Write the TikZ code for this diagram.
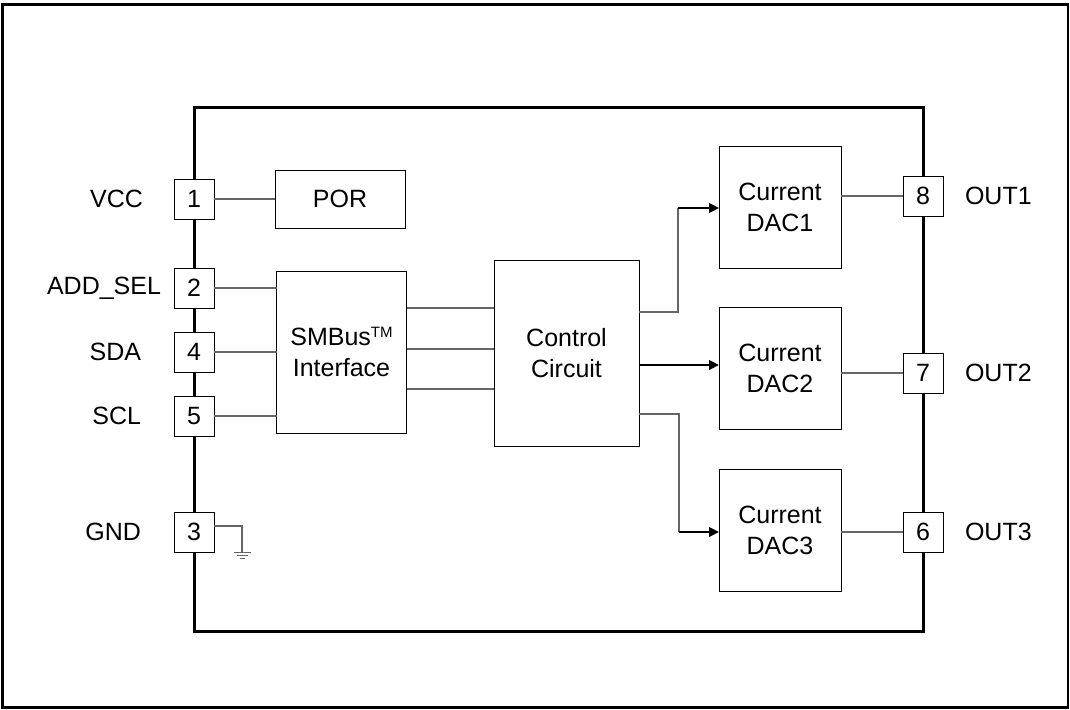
\documentclass[tikz,border=0pt]{standalone}
\usepackage{fontspec}
\setmainfont{Liberation Sans}
\usetikzlibrary{arrows.meta}
\begin{document}
\begin{tikzpicture}[x=1pt,y=-1pt,
  txt/.style={font=\fontsize{25}{31}\selectfont, align=center, inner sep=0pt, outer sep=0pt},
  blockbox/.style={draw=black, line width=1pt, fill=white, txt},
  pinbox/.style={draw=black, line width=1pt, fill=white, minimum width=40pt, minimum height=40pt, txt},
  lbl/.style={txt},
  wire/.style={draw=black!60, line width=1.2pt},
  arr/.style={draw=black, line width=2.6pt, -{Triangle[length=10pt,width=9.5pt]}},
  chip/.style={draw=black, line width=3pt},
  frame/.style={draw=black, line width=2.6pt}
]
\useasboundingbox (0,0) rectangle (1070,709);
\draw[frame] (2.5,4.5) rectangle (1068,707.5);
\draw[chip] (194,107) rectangle (923,631);

% blocks
\node[blockbox, minimum width=130pt, minimum height=58pt] (por) at (340,199) {POR};
\node[blockbox, minimum width=130pt, minimum height=162pt] (smb) at (341.5,352) {SMBus\raisebox{8pt}{\fontsize{15}{15}\selectfont TM}\\Interface};
\node[blockbox, minimum width=145pt, minimum height=186pt] (ctl) at (566.5,353) {Control\\Circuit};
\node[blockbox, minimum width=122pt, minimum height=122pt] (dac1) at (780,207) {Current\\DAC1};
\node[blockbox, minimum width=122pt, minimum height=122pt] (dac2) at (780,368) {Current\\DAC2};
\node[blockbox, minimum width=122pt, minimum height=122pt] (dac3) at (780,530) {Current\\DAC3};

% pins
\node[pinbox] (p1) at (194,199) {1};
\node[pinbox] (p2) at (194,288) {2};
\node[pinbox] (p4) at (194,352) {4};
\node[pinbox] (p5) at (194,416) {5};
\node[pinbox] (p3) at (194,532) {3};
\node[pinbox] (p8) at (923,196) {8};
\node[pinbox] (p7) at (923,373) {7};
\node[pinbox] (p6) at (923,532) {6};

% pin labels
\node[lbl, anchor=east] (lvcc) at (143,199) {VCC};
\node[lbl, anchor=east] (ladd) at (161,288) {ADD\_SEL};
\node[lbl, anchor=east] (lsda) at (141,352) {SDA};
\node[lbl, anchor=east] (lscl) at (141,416) {SCL};
\node[lbl, anchor=east] (lgnd) at (141,532) {GND};
\node[lbl, anchor=west] (lo1) at (965,196) {OUT1};
\node[lbl, anchor=west] (lo2) at (965,373) {OUT2};
\node[lbl, anchor=west] (lo3) at (965,532) {OUT3};

% wires
\draw[wire] (p1.east) -- (por.west |- p1.east);
\draw[wire] (p2.east) -- (smb.west |- p2.east);
\draw[wire] (p4.east) -- (smb.west |- p4.east);
\draw[wire] (p5.east) -- (smb.west |- p5.east);
\draw[wire] (smb.east |- 0,308) -- (ctl.west |- 0,308);
\draw[wire] (smb.east |- 0,349) -- (ctl.west |- 0,349);
\draw[wire] (smb.east |- 0,389) -- (ctl.west |- 0,389);
\draw[wire] (dac1.east |- p8.west) -- (p8.west);
\draw[wire] (dac2.east |- p7.west) -- (p7.west);
\draw[wire] (dac3.east |- p6.west) -- (p6.west);

% control to DACs
\coordinate (k1) at (678,312);
\coordinate (k1b) at (678,208);
\draw[wire] (ctl.east |- k1) -- (k1) -- (k1b);
\draw[arr] (k1b) -- (dac1.west |- k1b);
\draw[arr] (ctl.east |- 0,365) -- (dac2.west |- 0,365);
\coordinate (k3) at (679,414);
\coordinate (k3b) at (679,532);
\draw[wire] (ctl.east |- k3) -- (k3) -- (k3b);
\draw[arr] (k3b) -- (dac3.west |- k3b);

% ground
\coordinate (g0) at (242,526);
\coordinate (g1) at (242,552.5);
\draw[wire] (p3.east |- g0) -- (g0) -- (g1);
\draw[wire] (234,552.5) -- (251,552.5);
\draw[wire] (237,555.5) -- (248,555.5);
\draw[wire] (240,558.5) -- (245,558.5);
\end{tikzpicture}
\end{document}
